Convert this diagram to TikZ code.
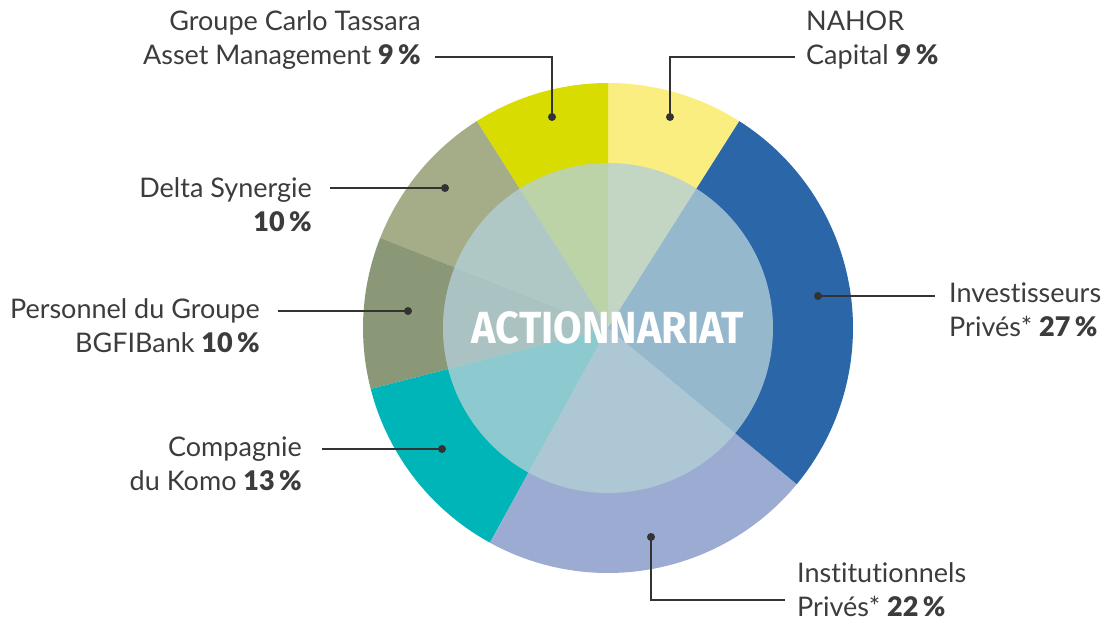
\documentclass[tikz,border=0pt]{standalone}
\usepackage{fontspec}
\setmainfont{Lato}[Ligatures=NoCommon]
\IfFontExistsTF{Lato Black}
  {\newfontfamily\heavyfont{Lato Black}}
  {\newfontfamily\heavyfont{Lato}[UprightFont=*-Bold]}
\newfontfamily\titlefont{Fira Sans}
\newcommand{\pct}[1]{{\heavyfont #1\,\%}}
\definecolor{nahorcolor}{HTML}{FAEE80}
\definecolor{investcolor}{HTML}{2B67A8}
\definecolor{institcolor}{HTML}{9BABD1}
\definecolor{komocolor}{HTML}{00B5B8}
\definecolor{persocolor}{HTML}{8B9878}
\definecolor{deltacolor}{HTML}{A4AC88}
\definecolor{carlocolor}{HTML}{D9DC00}
\definecolor{innercolor}{HTML}{B4D0D7}
\definecolor{textcolor}{HTML}{3C3C3C}
\definecolor{linecolor}{HTML}{333333}

\begin{document}
\begin{tikzpicture}[
  x=1pt, y=1pt,
  lbl/.style={font=\fontsize{27}{34}\selectfont, text=textcolor, inner sep=0pt},
  lead/.style={line width=2pt, draw=linecolor},
  dot/.style={circle, fill=linecolor, inner sep=0pt, minimum size=8pt},
]

  \useasboundingbox (0, 0) rectangle (1107, 622);
  \coordinate (c) at (608, 294);

  % slices, counterclockwise from NAHOR
  \foreach \a/\b/\col in {57.6/90/nahorcolor, 90/122.4/carlocolor,
      122.4/158.4/deltacolor, 158.4/194.4/persocolor, 194.4/241.2/komocolor,
      241.2/320.4/institcolor, 320.4/417.6/investcolor}
    \fill[\col] (c) -- ++(\a:245) arc (\a:\b:245) -- cycle;

  \fill[innercolor, opacity=0.78] (c) circle (165);

  \node[text=white, font=\titlefont\bfseries\fontsize{45}{45}\selectfont, inner sep=0pt] (title) at (c)
    {\scalebox{0.92}[1]{ACTIONNARIAT}};

  % leader lines
  \node[dot] (nahor) at (670, 505) {};
  \coordinate (nahor-e) at (670, 565);
  \coordinate (nahor-f) at (795, 565);
  \draw[lead] (nahor.center) -- (nahor-e) -- (nahor-f);

  \node[dot] (carlo) at (552, 505) {};
  \coordinate (carlo-e) at (552, 565);
  \coordinate (carlo-f) at (435, 565);
  \draw[lead] (carlo.center) -- (carlo-e) -- (carlo-f);

  \node[dot] (delta) at (445, 434) {};
  \coordinate (delta-f) at (330, 434);
  \draw[lead] (delta.center) -- (delta-f);

  \node[dot] (perso) at (408, 311) {};
  \coordinate (perso-f) at (278, 311);
  \draw[lead] (perso.center) -- (perso-f);

  \node[dot] (komo) at (442, 173) {};
  \coordinate (komo-f) at (322, 173);
  \draw[lead] (komo.center) -- (komo-f);

  \node[dot] (invest) at (818, 326) {};
  \coordinate (invest-f) at (935, 326);
  \draw[lead] (invest.center) -- (invest-f);

  \node[dot] (instit) at (651, 85) {};
  \coordinate (instit-e) at (651, 22);
  \coordinate (instit-f) at (785, 22);
  \draw[lead] (instit.center) -- (instit-e) -- (instit-f);

  % labels
  \node[lbl, anchor=west, align=left] (nahor-l) at (806, 582) {NAHOR\\Capital \pct{9}};
  \node[lbl, anchor=east, align=right] (carlo-l) at (421, 582) {Groupe Carlo Tassara\\Asset Management \pct{9}};
  \node[lbl, anchor=east, align=right] (delta-l) at (312, 417) {Delta Synergie\\\pct{10}};
  \node[lbl, anchor=east, align=right] (perso-l) at (260, 296) {Personnel du Groupe\\BGFIBank \pct{10}};
  \node[lbl, anchor=east, align=right] (komo-l) at (302, 158) {Compagnie\\du Komo \pct{13}};
  \node[lbl, anchor=west, align=left] (invest-l) at (949, 312) {Investisseurs\\Privés* \pct{27}};
  \node[lbl, anchor=west, align=left] (instit-l) at (797, 32) {Institutionnels\\Privés* \pct{22}};
\end{tikzpicture}
\end{document}
